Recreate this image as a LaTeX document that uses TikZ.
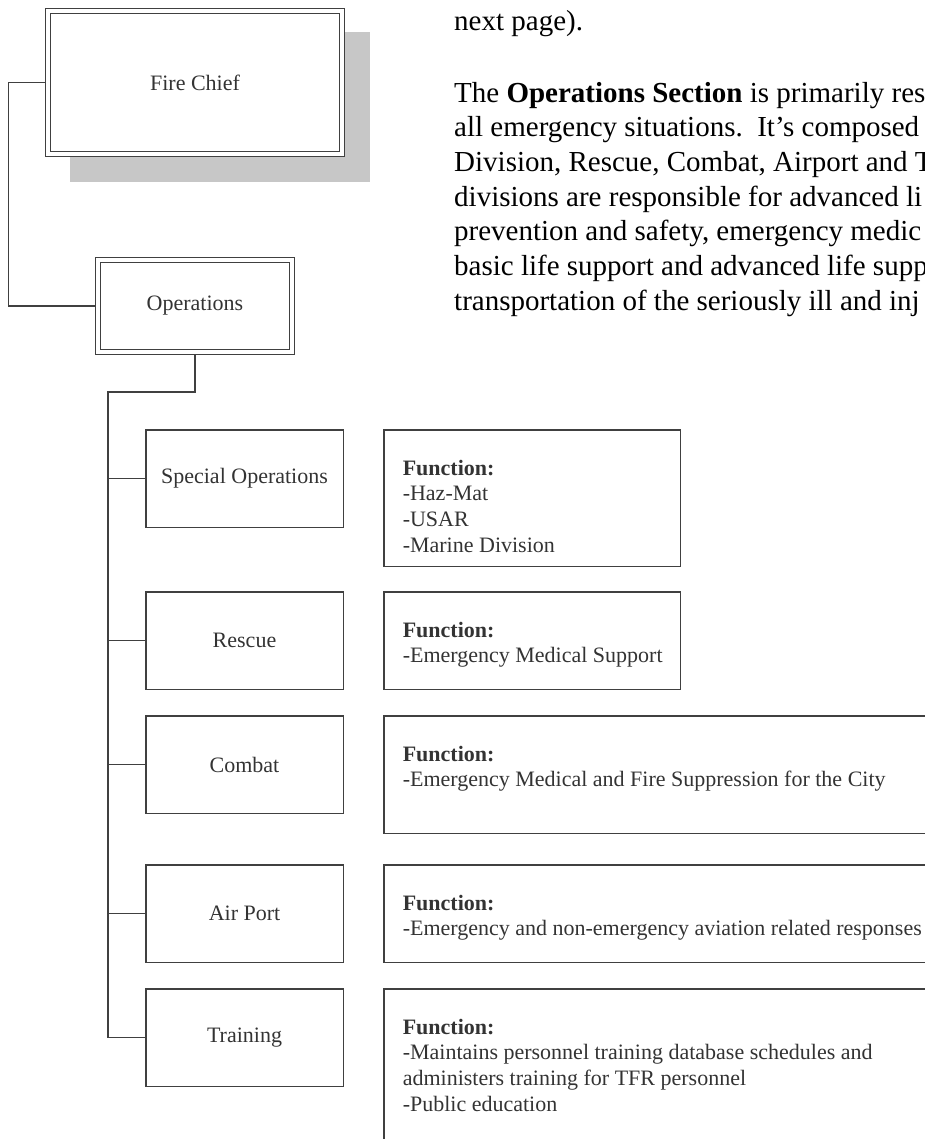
\documentclass[tikz,border=0pt]{standalone}
\usepackage{fontspec}
\setmainfont{Liberation Serif}
\usetikzlibrary{positioning,calc,backgrounds}

% text of a function box: height, width, lines after the heading
\newcommand{\functext}[3]{\parbox[c][#1][t]{#2}{\raggedright\leftskip=19pt
  \hyphenpenalty=10000\relax\rule{0pt}{45.25pt}\textbf{Function:}\\#3}}

\begin{document}
\begin{tikzpicture}[x=1pt, y=-1pt, node distance=25pt]
  \tikzstyle{headbox} = [rectangle, draw=black!75, fill=white, line width=1.4pt,
                         double=white, double distance=3.6pt, text=black!80,
                         font=\fontsize{22}{23.5}\selectfont]
  \tikzstyle{unitbox} = [rectangle, draw=black!75, line width=1.5pt, text=black!80,
                         minimum width=197.5pt, minimum height=97.5pt,
                         font=\fontsize{22}{23.5}\selectfont]
  \tikzstyle{funcbox} = [rectangle, draw=black!75, line width=1.5pt, text=black!80,
                         inner sep=0pt, font=\fontsize{22}{25.8}\selectfont]
  \tikzstyle{conn} = [draw=black!75, line width=1.5pt]
  \useasboundingbox (0,0) rectangle (925,1139);
  \clip (0,0) rectangle (925,1139);

  % text beside the chart
  \node[anchor=base west, inner sep=0pt, font=\fontsize{29}{34.6}\selectfont]
    (nextpage) at (454,30.6) {next page).};
  \node[anchor=base west, inner sep=0pt, align=left,
        font=\fontsize{29}{34.6}\selectfont] (opsection) at (454,310)
    {The \textbf{Operations Section} is primarily res\\
     all emergency situations.\ \ It’s composed\\
     Division, Rescue, Combat, Airport and T\\
     divisions are responsible for advanced li\\
     prevention and safety, emergency medic\\
     basic life support and advanced life supp\\
     transportation of the seriously ill and inj};

  % top of the chart
  \node[headbox, minimum width=293.6pt, minimum height=142.6pt]
    (chief) at (195,82.5) {Fire Chief};
  \node[headbox, minimum width=193.6pt, minimum height=91.6pt,
        below=105pt of chief] (ops) {Operations};

  % divisions
  \node[unitbox] (special) at (244.5,478.5) {Special Operations};
  \node[unitbox, below=63pt of special] (rescue) {Rescue};
  \node[unitbox, below=25pt of rescue] (combat) {Combat};
  \node[unitbox, below=50pt of combat] (airport) {Air Port};
  \node[unitbox, below=25pt of airport] (training) {Training};

  % functions
  \node[funcbox, right=39pt of special.north east, anchor=north west] (fspecial)
    {\functext{136.5pt}{296.5pt}{-Haz-Mat\\-USAR\\-Marine Division}};
  \node[funcbox, right=39pt of rescue.north east, anchor=north west] (frescue)
    {\functext{97.5pt}{296.5pt}{-Emergency Medical Support}};
  \node[funcbox, right=39pt of combat.north east, anchor=north west] (fcombat)
    {\functext{117.5pt}{600pt}{-Emergency Medical and Fire Suppression for the City}};
  \node[funcbox, right=39pt of airport.north east, anchor=north west] (fairport)
    {\functext{97.5pt}{600pt}{-Emergency and non-emergency aviation related responses}};
  \node[funcbox, right=39pt of training.north east, anchor=north west] (ftraining)
    {\functext{200pt}{600pt}{-Maintains personnel training database schedules and\\
     administers training for TFR personnel\\-Public education}};

  \begin{scope}[on background layer]
    % shadow of the chief box
    \fill[black!22] ($(chief.north west)+(22,22)$) rectangle
                    ($(chief.south east)+(27,28)$);
    \draw[conn] (chief.west) -- ++(-39,0) |- (ops.west);
    \coordinate (trunk) at (108,392);
    \draw[conn] (ops.south) |- (trunk) |- (training.west);
    \foreach \unit in {special,rescue,combat,airport}
      \draw[conn] (trunk |- \unit.west) -- (\unit.west);
  \end{scope}
\end{tikzpicture}
\end{document}
